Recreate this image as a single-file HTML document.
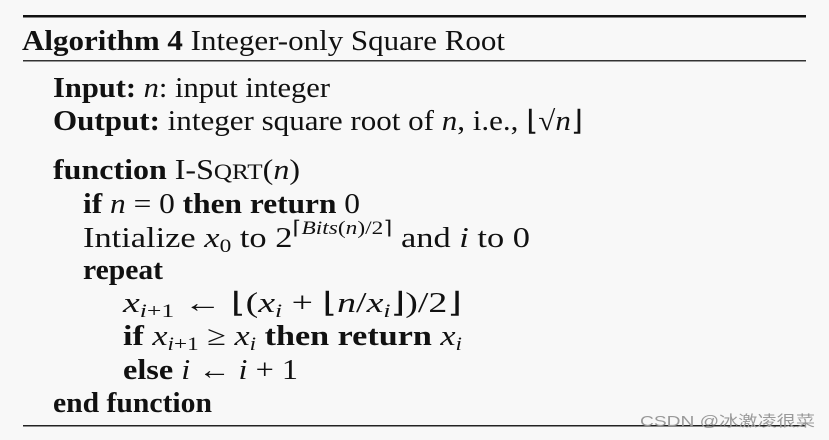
<!DOCTYPE html>
<html><head><meta charset="utf-8"><style>
html,body{margin:0;padding:0;background:#f8f8f8;}
svg{display:block}
text{font-family:"Liberation Serif",serif;font-size:28px;fill:#111}
.b{font-weight:bold}
.i{font-style:italic}
</style></head><body>
<svg width="829" height="440" viewBox="0 0 829 440" xmlns="http://www.w3.org/2000/svg">
<rect width="829" height="440" fill="#f8f8f8"/>
<rect x="23" y="15" width="783" height="2.5" fill="#111"/>
<rect x="23" y="60" width="783" height="1.5" fill="#333"/>
<rect x="23" y="425" width="783" height="1.5" fill="#222"/>

<text x="22" y="50" textLength="483" lengthAdjust="spacingAndGlyphs"><tspan class="b">Algorithm 4</tspan> Integer-only Square Root</text>

<text x="53" y="97" textLength="277" lengthAdjust="spacingAndGlyphs"><tspan class="b">Input:</tspan> <tspan class="i">n</tspan>: input integer</text>
<text x="53" y="130" textLength="530" lengthAdjust="spacingAndGlyphs"><tspan class="b">Output:</tspan> integer square root of <tspan class="i">n</tspan>, i.e., ⌊√<tspan class="i">n</tspan>⌋</text>

<text x="53" y="179" textLength="247" lengthAdjust="spacingAndGlyphs"><tspan class="b">function</tspan> I-S<tspan font-size="22">QRT</tspan>(<tspan class="i">n</tspan>)</text>
<text x="83" y="213" textLength="277" lengthAdjust="spacingAndGlyphs"><tspan class="b">if</tspan> <tspan class="i">n</tspan> = 0 <tspan class="b">then return</tspan> 0</text>
<text x="83" y="247" textLength="447" lengthAdjust="spacingAndGlyphs">Intialize <tspan class="i">x</tspan><tspan font-size="19" dy="5">0</tspan><tspan dy="-5"> to 2</tspan><tspan font-size="19" dy="-13">⌈<tspan class="i">Bits</tspan>(<tspan class="i">n</tspan>)/2⌉</tspan><tspan dy="13"> and </tspan><tspan class="i">i</tspan> to 0</text>
<text x="83" y="279" class="b" textLength="80" lengthAdjust="spacingAndGlyphs">repeat</text>

<text x="123" y="312" textLength="339" lengthAdjust="spacingAndGlyphs"><tspan class="i">x</tspan><tspan font-size="19" dy="5" class="i">i</tspan><tspan font-size="19">+1</tspan><tspan dy="-5"> ← ⌊(</tspan><tspan class="i">x</tspan><tspan font-size="19" dy="5" class="i">i</tspan><tspan dy="-5"> + ⌊</tspan><tspan class="i">n</tspan>/<tspan class="i">x</tspan><tspan font-size="19" dy="5" class="i">i</tspan><tspan dy="-5">⌋)/2⌋</tspan></text>
<text x="123" y="345" textLength="339" lengthAdjust="spacingAndGlyphs"><tspan class="b">if</tspan> <tspan class="i">x</tspan><tspan font-size="19" dy="5" class="i">i</tspan><tspan font-size="19">+1</tspan><tspan dy="-5"> ≥ </tspan><tspan class="i">x</tspan><tspan font-size="19" dy="5" class="i">i</tspan><tspan dy="-5" class="b"> then return </tspan><tspan class="i">x</tspan><tspan font-size="19" dy="5" class="i">i</tspan></text>
<text x="123" y="379" textLength="175" lengthAdjust="spacingAndGlyphs"><tspan class="b">else</tspan> <tspan class="i">i</tspan> ← <tspan class="i">i</tspan> + 1</text>
<text x="53" y="412" class="b" textLength="159" lengthAdjust="spacingAndGlyphs">end function</text>

<text x="640" y="426" style="font-family:'Liberation Sans','Noto Sans CJK SC',sans-serif;font-size:15px;fill:#999" textLength="175" lengthAdjust="spacingAndGlyphs">CSDN @冰激凌很菜</text>
</svg>
</body></html>
